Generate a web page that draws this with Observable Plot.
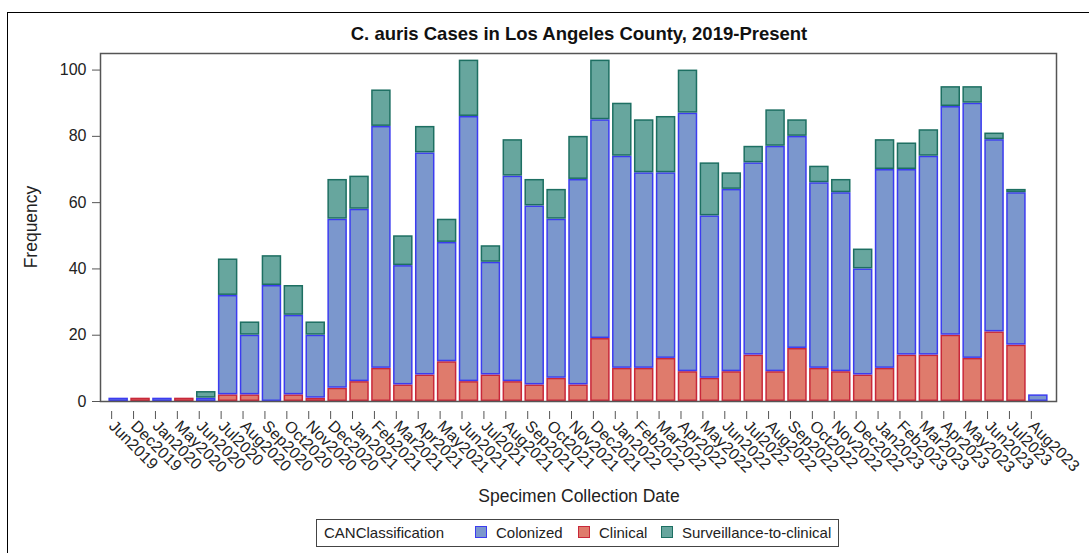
<!DOCTYPE html>
<html>
<head>
<meta charset="utf-8">
<script src="https://cdn.jsdelivr.net/npm/d3@7"></script>
<script src="https://cdn.jsdelivr.net/npm/@observablehq/plot@0.6"></script>
<style>
  html, body { margin: 0; padding: 0; background: #fff; }
  body { font-family: "Liberation Sans", Arial, sans-serif; }
  #wrap { position: relative; width: 1089px; height: 553px; overflow: hidden; }
  #border { position: absolute; left: 7px; top: 12px; right: -10px; bottom: -10px; border-left: 1.5px solid #000; border-top: 1.5px solid #000; }
  #title { position: absolute; left: 579px; top: 34px; transform: translate(-50%, -50%); white-space: nowrap; font-weight: bold; font-size: 18.5px; color: #111; }
  #xlabel { position: absolute; left: 579px; top: 496px; transform: translate(-50%, -50%); white-space: nowrap; font-size: 17.5px; color: #222; }
  #ylabel { position: absolute; left: 31px; top: 227px; transform: translate(-50%, -50%) rotate(-90deg); white-space: nowrap; font-size: 17.5px; color: #222; }
  #chart { position: absolute; left: 0; top: 0; }
  #legend { position: absolute; left: 316px; top: 519px; width: 521px; height: 26px; border: 1px solid #444; font-size: 15px; color: #222; }
  #legend .t { position: absolute; top: 4px; white-space: nowrap; }
  #legend .sw { position: absolute; top: 6px; width: 10px; height: 10px; border: 1.5px solid; }
</style>
</head>
<body>
<div id="wrap">
  <div id="border"></div>
  <div id="chart"></div>
  <div id="title">C. auris Cases in Los Angeles County, 2019-Present</div>
  <div id="ylabel">Frequency</div>
  <div id="xlabel">Specimen Collection Date</div>
  <div id="legend"></div>
</div>
<script>
const months = ["Jun2019","Dec2019","Jan2020","May2020","Jun2020","Jul2020","Aug2020","Sep2020","Oct2020","Nov2020","Dec2020",
  "Jan2021","Feb2021","Mar2021","Apr2021","May2021","Jun2021","Jul2021","Aug2021","Sep2021","Oct2021","Nov2021","Dec2021",
  "Jan2022","Feb2022","Mar2022","Apr2022","May2022","Jun2022","Jul2022","Aug2022","Sep2022","Oct2022","Nov2022","Dec2022",
  "Jan2023","Feb2023","Mar2023","Apr2023","May2023","Jun2023","Jul2023","Aug2023"];
const clinical  = [0,1,0,1,0, 2,2,0,2,1, 4, 6,10,5,8,12,6,8,6,5,7,5,19, 10,10,13,9,7,9,14,9,16,10,9,8, 10,14,14,20,13,21,17,0];
const colonized = [1,0,1,0,1, 30,18,35,24,19, 51, 52,73,36,67,36,80,34,62,54,48,62,66, 64,59,56,78,49,55,58,68,64,56,54,32, 60,56,60,69,77,58,46,2];
const s2c       = [0,0,0,0,2, 11,4,9,9,4, 12, 10,11,9,8,7,17,5,11,8,9,13,18, 16,16,17,13,16,5,5,11,5,5,4,6, 9,8,8,6,5,2,1,0];
const yTicks = [0, 20, 40, 60, 80, 100];

const classes = ["Clinical","Colonized","Surveillance-to-clinical"]; // stack order bottom→top
const legendOrder = ["Colonized","Clinical","Surveillance-to-clinical"];
const fills   = {"Colonized":"#7b97cd","Clinical":"#df7b6c","Surveillance-to-clinical":"#67a69e"};
const strokes = {"Colonized":"#3c3cf0","Clinical":"#c8283a","Surveillance-to-clinical":"#1d6f62"};
const series = {"Clinical": clinical, "Colonized": colonized, "Surveillance-to-clinical": s2c};

const rows = [];
months.forEach((m, i) => {
  let base = 0;
  for (const c of classes) {
    const v = series[c][i];
    if (v > 0) rows.push({month: m, cls: c, y1: base, y2: base + v});
    base += v;
  }
});

const font = "Liberation Sans, Arial, sans-serif";
const chart = Plot.plot({
  width: 1089,
  height: 553,
  marginTop: 53,
  marginLeft: 100,
  marginRight: 33,
  marginBottom: 152,
  style: {fontFamily: font, fontSize: "16px", color: "#222", background: "transparent"},
  x: {type: "band", domain: months, padding: 0.11, inset: 6, label: null},
  y: {domain: [0, 105], label: null},
  marks: [
    ...classes.map(c => Plot.barY(rows.filter(r => r.cls === c), {
      x: "month", y1: "y1", y2: "y2",
      fill: fills[c], stroke: strokes[c], strokeWidth: 1.5, inset: 0.75
    })),
    Plot.frame({stroke: "#555", strokeWidth: 1.5}),
    Plot.axisY({ticks: yTicks, tickSize: 8, tickPadding: 6, stroke: "#555", label: null, fontSize: 16}),
    Plot.axisX({tickRotate: 45, tickSize: 8, tickPadding: 4, stroke: "#555", label: null, fontSize: 16, dx: -7, dy: 10})
  ]
});
document.getElementById("chart").appendChild(chart);

const legend = document.getElementById("legend");
const items = [["CANClassification", 7]];
const swX = [158, 261, 344];
legendOrder.forEach((c, i) => {
  const sw = document.createElement("div");
  sw.className = "sw";
  sw.style.left = swX[i] + "px";
  sw.style.background = fills[c];
  sw.style.borderColor = strokes[c];
  legend.appendChild(sw);
  items.push([c, swX[i] + 21]);
});
items.forEach(([txt, x]) => {
  const s = document.createElement("span");
  s.className = "t"; s.textContent = txt; s.style.left = x + "px";
  legend.appendChild(s);
});
</script>
</body>
</html>
